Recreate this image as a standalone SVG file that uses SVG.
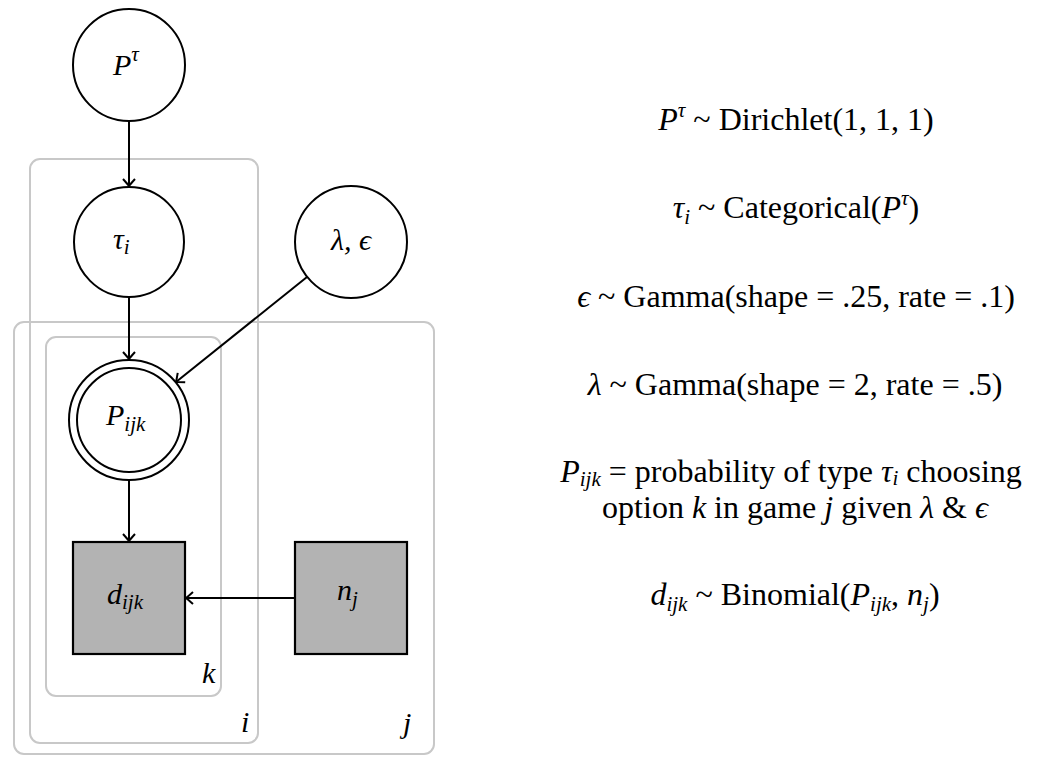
<svg xmlns="http://www.w3.org/2000/svg" width="1042" height="757" viewBox="0 0 1042 757">
<defs>
<style>
text{font-family:"Liberation Serif","Times New Roman",serif;font-size:30px;fill:#000}
.eq{font-size:32px}
.it{font-style:italic}
.sub{font-size:21px;font-style:italic}
.plate{fill:none;stroke:#c8c8c8;stroke-width:2}
.node{fill:#fff;stroke:#000;stroke-width:2}
.obs{fill:#b3b3b3;stroke:#000;stroke-width:2.2}
.edge{stroke:#000;stroke-width:2;fill:none;marker-end:url(#arr)}
</style>
<marker id="arr" markerUnits="userSpaceOnUse" markerWidth="20" markerHeight="20" viewBox="-10 -10 20 20" refX="0" refY="0" orient="auto">
<path d="M-7,-6 Q-2,-1.5 0,0 Q-2,1.5 -7,6" fill="none" stroke="#000" stroke-width="2"/>
</marker>
</defs>
<g id="plates">
<rect id="plate-i" class="plate" x="30" y="159" width="228" height="584" rx="10"/>
<rect id="plate-j" class="plate" x="14" y="322" width="420" height="432" rx="10"/>
<rect id="plate-k" class="plate" x="46" y="337" width="175" height="359" rx="10"/>
<text class="it" x="202" y="683">k</text>
<text class="it" x="241" y="732">i</text>
<text class="it" x="403" y="733">j</text>
</g>
<g id="connectors">
<line class="edge" x1="129" y1="121" x2="129" y2="186"/>
<line class="edge" x1="129" y1="297" x2="129" y2="359"/>
<line class="edge" x1="307" y1="277" x2="176" y2="382"/>
<line class="edge" x1="129" y1="480" x2="129" y2="541"/>
<line class="edge" x1="295" y1="598" x2="186" y2="598"/>
</g>
<g id="node-Ptau">
<circle class="node" cx="129" cy="65" r="56"/>
<text x="113" y="75"><tspan class="it">P</tspan><tspan class="sub" dy="-14">τ</tspan></text>
</g>
<g id="node-tau">
<circle class="node" cx="129" cy="242" r="55"/>
<text x="113" y="249"><tspan class="it">τ</tspan><tspan class="sub" dy="5">i</tspan></text>
</g>
<g id="node-lambda">
<circle class="node" cx="351" cy="242" r="56"/>
<text class="it" x="351" y="250" text-anchor="middle">λ, ϵ</text>
</g>
<g id="node-Pijk">
<circle class="node" cx="129" cy="420" r="60"/>
<circle class="node" cx="129" cy="420" r="52"/>
<text x="106" y="425"><tspan class="it">P</tspan><tspan class="sub" dy="6">ijk</tspan></text>
</g>
<g id="node-d">
<rect class="obs" x="73" y="542" width="112" height="112"/>
<text x="107" y="604"><tspan class="it">d</tspan><tspan class="sub" dy="5">ijk</tspan></text>
</g>
<g id="node-n">
<rect class="obs" x="295" y="542" width="112" height="112"/>
<text x="337" y="600"><tspan class="it">n</tspan><tspan class="sub" dy="6">j</tspan></text>
</g>
<g id="equations">
<text class="eq" x="796" y="130" text-anchor="middle"><tspan class="it">P</tspan><tspan class="sub" dy="-13">τ</tspan><tspan dy="13"> ~ Dirichlet(1, 1, 1)</tspan></text>
<text class="eq" x="796" y="218" text-anchor="middle"><tspan class="it">τ</tspan><tspan class="sub" dy="6">i</tspan><tspan dy="-6"> ~ Categorical(</tspan><tspan class="it">P</tspan><tspan class="sub" dy="-13">τ</tspan><tspan dy="13">)</tspan></text>
<text class="eq" x="796" y="307" text-anchor="middle"><tspan class="it">ϵ</tspan> ~ Gamma(shape = .25, rate = .1)</text>
<text class="eq" x="795" y="395" text-anchor="middle"><tspan class="it">λ</tspan> ~ Gamma(shape = 2, rate = .5)</text>
<text class="eq" x="791" y="482" text-anchor="middle"><tspan class="it">P</tspan><tspan class="sub" dy="4">ijk</tspan><tspan dy="-4"> = probability of type </tspan><tspan class="it">τ</tspan><tspan class="sub" dy="3">i</tspan><tspan dy="-3"> choosing</tspan></text>
<text class="eq" x="795" y="518" text-anchor="middle">option <tspan class="it">k</tspan> in game <tspan class="it">j</tspan> given <tspan class="it">λ</tspan> &amp; <tspan class="it">ϵ</tspan></text>
<text class="eq" x="795" y="605" text-anchor="middle"><tspan class="it">d</tspan><tspan class="sub" dy="6">ijk</tspan><tspan dy="-6"> ~ Binomial(</tspan><tspan class="it">P</tspan><tspan class="sub" dy="6">ijk</tspan><tspan dy="-6">, </tspan><tspan class="it">n</tspan><tspan class="sub" dy="6">j</tspan><tspan dy="-6">)</tspan></text>
</g>
</svg>
